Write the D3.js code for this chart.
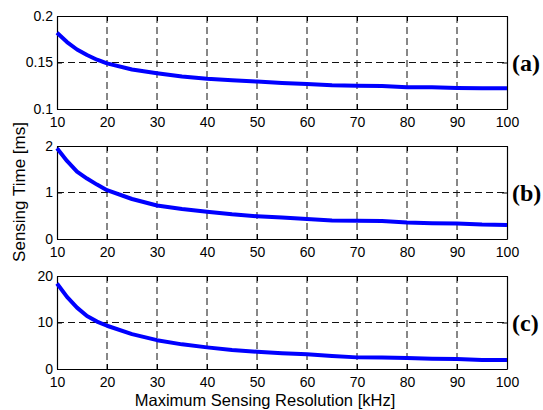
<!DOCTYPE html>
<html><head><meta charset="utf-8">
<script src="https://cdn.jsdelivr.net/npm/d3@7"></script>
<style>body{margin:0;background:#fff}svg{display:block}</style>
</head><body>
<script>
const resolution = [10,12,14,16,18,20,25,30,35,40,45,50,55,60,65,70,75,80,85,90,95,100];
const timeA = [0.182,0.172,0.164,0.158,0.153,0.149,0.1425,0.1385,0.135,0.1325,0.131,0.1295,0.128,0.127,0.1255,0.125,0.1248,0.1235,0.1233,0.1225,0.1222,0.1222];
const timeB = [1.95,1.68,1.45,1.30,1.17,1.05,0.86,0.72,0.645,0.585,0.53,0.49,0.46,0.43,0.40,0.39,0.385,0.355,0.34,0.335,0.31,0.30];
const timeC = [18.4,15.5,13.2,11.4,10.2,9.3,7.5,6.2,5.3,4.65,4.1,3.7,3.4,3.15,2.8,2.5,2.45,2.35,2.2,2.15,1.95,1.93];
const xTicks = [10,20,30,40,50,60,70,80,90,100];
const yTicksA = [0.1,0.15,0.2];
const yTicksB = [0,1,2];
const yTicksC = [0,10,20];
const panelLabels = ["(a)","(b)","(c)"];
const xLabel = "Maximum Sensing Resolution [kHz]";
const yLabel = "Sensing Time [ms]";

const W = 543, H = 410;
const svg = d3.select("body").append("svg").attr("width", W).attr("height", H);
const x = d3.scaleLinear().domain([10,100]).range([57,507]);
const panels = [
  {data: timeA, ticks: yTicksA, top: 16},
  {data: timeB, ticks: yTicksB, top: 146},
  {data: timeC, ticks: yTicksC, top: 276}
];
const ph = 93;
const font = "'Liberation Sans', Arial, sans-serif";

panels.forEach((p, i) => {
  const y = d3.scaleLinear().domain([p.ticks[0], p.ticks[p.ticks.length-1]]).range([p.top+ph, p.top]);
  const g = svg.append("g");
  g.selectAll(".vg").data(xTicks.slice(1,-1)).enter().append("line")
    .attr("x1", d => x(d)).attr("x2", d => x(d)).attr("y1", p.top).attr("y2", p.top+ph)
    .attr("stroke", "#111").attr("stroke-width", 1).attr("stroke-dasharray", "7,4");
  g.selectAll(".hg").data(p.ticks.slice(1,-1)).enter().append("line")
    .attr("x1", 57).attr("x2", 507).attr("y1", d => y(d)).attr("y2", d => y(d))
    .attr("stroke", "#111").attr("stroke-width", 1).attr("stroke-dasharray", "7,4");
  const bottom = g.append("g").attr("transform", `translate(0,${p.top+ph})`)
    .call(d3.axisBottom(x).tickValues(xTicks).tickSizeInner(-5).tickSizeOuter(0));
  const topAx = g.append("g").attr("transform", `translate(0,${p.top})`)
    .call(d3.axisTop(x).tickValues(xTicks).tickSizeInner(-5).tickSizeOuter(0).tickFormat(""));
  const left = g.append("g").attr("transform", `translate(57,0)`)
    .call(d3.axisLeft(y).tickValues(p.ticks).tickFormat(d => String(d)).tickSizeInner(-5).tickSizeOuter(0).tickPadding(4));
  const right = g.append("g").attr("transform", `translate(507,0)`)
    .call(d3.axisRight(y).tickValues(p.ticks).tickSizeInner(-5).tickSizeOuter(0).tickFormat(""));
  [bottom, topAx, left, right].forEach(a => {
    a.select(".domain").attr("stroke", "#000").attr("stroke-width", 1.2);
    a.selectAll(".tick line").attr("stroke", "#000");
    a.selectAll("text").attr("font-family", font).attr("font-size", 14).attr("fill", "#000");
  });
  bottom.selectAll("text").attr("dy", null).attr("y", 18);
  const line = d3.line().x((d, j) => x(resolution[j])).y(d => y(d));
  g.append("path").datum(p.data).attr("d", line)
    .attr("fill", "none").attr("stroke", "#0000ff").attr("stroke-width", 4)
    .attr("stroke-linejoin", "round");
  g.append("text").attr("x", 512).attr("y", p.top + ph/2 + 8)
    .attr("font-family", "'Liberation Serif', 'Times New Roman', serif").attr("font-weight", "bold")
    .attr("font-size", 24).text(panelLabels[i]);
});

svg.append("text").attr("x", 265).attr("y", 405.5).attr("text-anchor", "middle")
  .attr("font-family", font).attr("font-size", 16.5).text(xLabel);
svg.append("text").attr("transform", "translate(25,192) rotate(-90)").attr("text-anchor", "middle")
  .attr("font-family", font).attr("font-size", 17).text(yLabel);
</script>
</body></html>
